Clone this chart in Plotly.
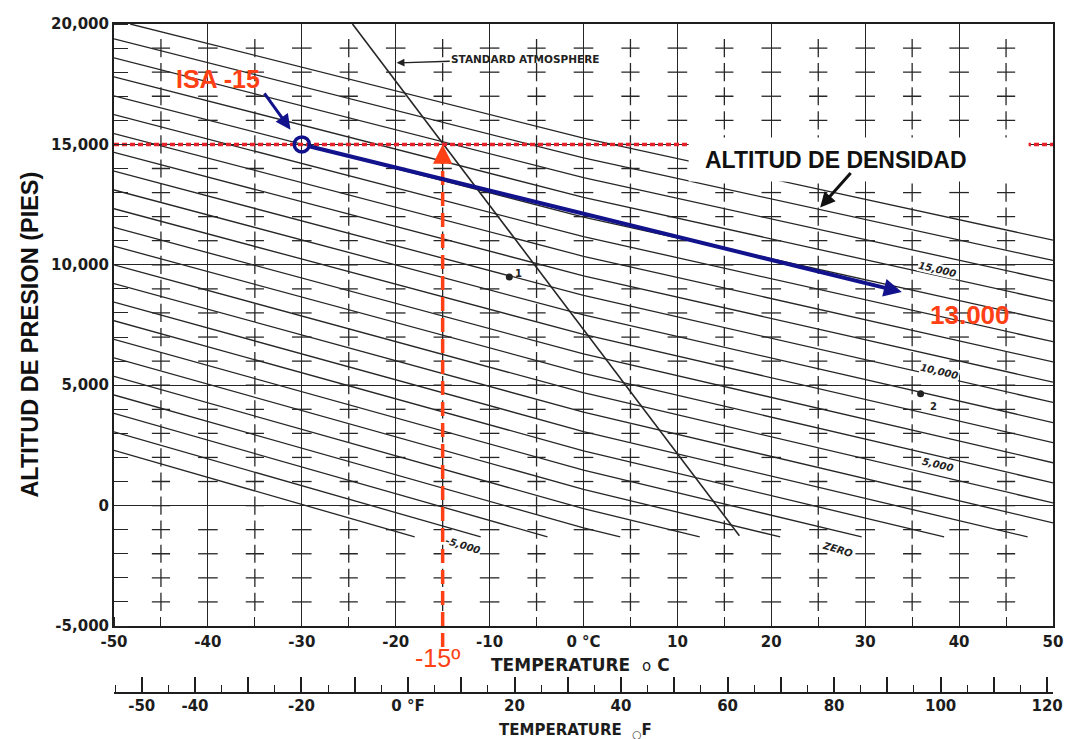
import plotly.graph_objects as go

# ---------------- data ----------------
temp_c_ticks = [-50, -40, -30, -20, -10, 0, 10, 20, 30, 40, 50]
temp_c_labels = ["-50", "-40", "-30", "-20", "-10", "0 °C", "10", "20", "30", "40", "50"]
pa_ticks = [-5000, 0, 5000, 10000, 15000, 20000]
pa_labels = ["-5,000", "0", "5,000", "10,000", "15,000", "20,000"]
temp_f_ticks = [-50, -40, -30, -20, -10, 0, 10, 20, 30, 40, 50, 60, 70, 80, 90, 100, 110, 120]
temp_f_labels = ["-50", "-40", "", "-20", "", "0 °F", "", "20", "", "40", "", "60", "", "80", "", "100", "", "120"]

# density-altitude lines: pressure altitude read at -50, 0 and +50 °C
da_levels = [-6000, -5000, -4000, -3000, -2000, -1000, 0, 1000, 2000, 3000, 4000, 5000,
             6000, 7000, 8000, 9000, 10000, 11000, 12000, 13000, 14000, 15000, 16000, 17000]
da_line_temps = [-50, 0, 50]
da_pa_at_m50 = [2295, 3061, 3828, 4595, 5364, 6134, 6905, 7677, 8450, 9223, 9998, 10774,
                11551, 12329, 13108, 13889, 14670, 15452, 16236, 17020, 17806, 18593, 19381, 20170]
da_pa_at_0 = [-3319, -2523, -1726, -928, -129, 671, 1472, 2274, 3077, 3881, 4687, 5493,
              6301, 7109, 7919, 8729, 9541, 10354, 11168, 11984, 12800, 13618, 14437, 15257]
da_pa_at_50 = [-8153, -7332, -6509, -5685, -4860, -4034, -3207, -2379, -1550, -719, 112, 945,
               1778, 2613, 3449, 4286, 5124, 5964, 6805, 7647, 8489, 9334, 10180, 11026]
da_pa_floor = -1300
pa_ceiling = 20000

std_temp = [-24.6, 16.6]
std_pa = [20000, -1250]

isa_temp, isa_pa = -30, 15000
result_temp, result_pa = 33.9, 8870
ref_temp = -15

marked_temp = [-7.9, 35.9]
marked_pa = [9490, 4640]
marked_text = ["1", "2"]
marked_text_temp = [-6.9, 37.3]
marked_text_pa = [9620, 4100]

da_label_text = ["15,000", "10,000", "5,000", "ZERO", "-5,000"]
da_label_temp = [37.7, 37.9, 37.7, 27.1, -12.8]
da_label_pa = [9800, 5560, 1710, -1810, -1650]
da_label_angle = [13, 13, 13, 17, 17]

# ---------------- styling ----------------
INK = "#262626"
NAVY = "#12128C"
RED = "#FF3F14"
DOTRED = "#E8202A"
TICKFONT = dict(family="DejaVu Sans", size=15, color="#1c1c1c", weight="bold")
X_RANGE = [-50, 50]
Y_RANGE = [-5000, 20000]
F_RANGE = [-55.2, 121.1]
Y_DOMAIN0 = 0.1473


def clip_poly(ts, ps, lo, hi):
    out_t, out_p = [], []
    for i in range(len(ts) - 1):
        t0, p0, t1, p1 = ts[i], ps[i], ts[i + 1], ps[i + 1]
        a, b = 0.0, 1.0
        dp = p1 - p0
        if dp == 0:
            if not (lo <= p0 <= hi):
                continue
        else:
            s1, s2 = (lo - p0) / dp, (hi - p0) / dp
            a, b = max(a, min(s1, s2)), min(b, max(s1, s2))
            if a >= b:
                continue
        for s in (a, b):
            t, p = t0 + s * (t1 - t0), p0 + s * dp
            if out_t and abs(out_t[-1] - t) < 1e-9 and abs(out_p[-1] - p) < 1e-6:
                continue
            out_t.append(t)
            out_p.append(p)
    return out_t, out_p


fig = go.Figure()

# plus marks of the chart grid
cross_x, cross_y, dash_x, dash_y = [], [], [], []
for pa in range(-4000, 20000, 1000):
    for t in range(-45, 50, 10):
        cross_x.append(t)
        cross_y.append(pa)
    if pa % 5000 != 0:
        for t in range(-40, 50, 10):
            dash_x.append(t)
            dash_y.append(pa)
fig.add_trace(go.Scatter(x=cross_x, y=cross_y, mode="markers",
                         marker=dict(symbol="cross-thin", size=13, line=dict(color=INK, width=1.3)),
                         hoverinfo="skip", showlegend=False))
fig.add_trace(go.Scatter(x=dash_x, y=dash_y, mode="markers",
                         marker=dict(symbol="line-ew", size=14, line=dict(color=INK, width=1.3)),
                         hoverinfo="skip", showlegend=False))

# density altitude lines
lx, ly = [], []
for i in range(len(da_levels)):
    ps = [da_pa_at_m50[i], da_pa_at_0[i], da_pa_at_50[i]]
    ct, cp = clip_poly(da_line_temps, ps, da_pa_floor, pa_ceiling)
    if ct:
        lx += ct + [None]
        ly += cp + [None]
fig.add_trace(go.Scatter(x=lx, y=ly, mode="lines", line=dict(color=INK, width=1.3),
                         hoverinfo="skip", showlegend=False))

# standard atmosphere
fig.add_trace(go.Scatter(x=std_temp, y=std_pa, mode="lines", line=dict(color=INK, width=1.6),
                         hoverinfo="skip", showlegend=False))

# marked points 1 and 2
fig.add_trace(go.Scatter(x=marked_temp, y=marked_pa, mode="markers",
                         marker=dict(color="#222", size=7), hoverinfo="skip", showlegend=False))

# red dotted pressure altitude line
fig.add_trace(go.Scatter(x=X_RANGE, y=[isa_pa, isa_pa], mode="lines",
                         line=dict(color=DOTRED, width=3.5, dash="5px,3px"),
                         hoverinfo="skip", showlegend=False))

# ISA -15 point
fig.add_trace(go.Scatter(x=[isa_temp], y=[isa_pa], mode="markers",
                         marker=dict(symbol="circle-open", size=15, color=NAVY,
                                     line=dict(color=NAVY, width=3.5)),
                         hoverinfo="skip", showlegend=False))

# trace to bring the Fahrenheit axis to life
fig.add_trace(go.Scatter(x=[F_RANGE[0], F_RANGE[1]], y=[Y_RANGE[0] - 5000] * 2, xaxis="x2", yaxis="y",
                         mode="lines", line=dict(width=0), hoverinfo="skip", showlegend=False))


def pa_to_paper(pa):
    return Y_DOMAIN0 + (pa - Y_RANGE[0]) / (Y_RANGE[1] - Y_RANGE[0]) * (1 - Y_DOMAIN0)


shapes = [
    # white box over the original text
    dict(type="rect", xref="x", yref="y", x0=11.2, x1=47.4, y0=13460, y1=15282,
         fillcolor="white", line=dict(width=0), layer="above"),
    # red dashed -15 line
    dict(type="line", xref="x", yref="paper", x0=ref_temp, x1=ref_temp,
         y0=0.1176, y1=pa_to_paper(isa_pa) - 0.012,
         line=dict(color=RED, width=3.5, dash="14px,7px"), layer="above"),
]

annotations = []
# y axis title
annotations.append(dict(text="ALTITUD DE PRESION (PIES)", xref="paper", yref="paper", x=-0.0895, y=0.56,
                        xanchor="center", yanchor="middle", textangle=-90, showarrow=False,
                        font=dict(family="Liberation Sans", size=23.5, color="#111", weight="bold")))
# x axis titles
annotations.append(dict(text="TEMPERATURE  <span style='font-weight:normal;font-size:15px'>o</span> C",
                        xref="paper", yref="paper",
                        x=0.497, y=0.0922, xanchor="center", yanchor="middle", showarrow=False,
                        font=dict(family="DejaVu Sans", size=17, color="#1c1c1c", weight="bold")))
annotations.append(dict(text="TEMPERATURE  <sub>○</sub>F", xref="paper", yref="paper",
                        x=0.492, y=-0.001, xanchor="center", yanchor="middle", showarrow=False,
                        font=dict(family="DejaVu Sans", size=15, color="#1c1c1c", weight="bold")))
# -15 label
annotations.append(dict(text="-15º", xref="x", yref="paper", x=ref_temp - 0.6, y=0.102,
                        xanchor="center", yanchor="middle", showarrow=False,
                        font=dict(family="Liberation Sans", size=25, color=RED)))
# ISA -15 label and arrow
annotations.append(dict(text="ISA -15", x=-38.9, y=17700, showarrow=False,
                        font=dict(family="Liberation Sans", size=25, color=RED, weight="bold")))
annotations.append(dict(text="", x=-31.2, y=15613, ax=-34.1, ay=17185, axref="x", ayref="y",
                        showarrow=True, arrowhead=2, arrowsize=1, arrowwidth=3, arrowcolor=NAVY))
# blue result arrow
annotations.append(dict(text="", x=result_temp, y=result_pa, ax=isa_temp, ay=isa_pa, axref="x", ayref="y",
                        showarrow=True, arrowhead=2, arrowsize=0.9, arrowwidth=4, arrowcolor=NAVY,
                        startstandoff=7))
annotations.append(dict(text="13.000", x=41.2, y=7914, showarrow=False,
                        font=dict(family="Liberation Sans", size=26, color=RED, weight="bold")))
# density altitude label
annotations.append(dict(text="ALTITUD DE DENSIDAD", x=26.9, y=14371, showarrow=False,
                        font=dict(family="Liberation Sans", size=23, color="#111", weight="bold")))
annotations.append(dict(text="", x=25.2, y=12384, ax=28.6, ay=13874, axref="x", ayref="y",
                        showarrow=True, arrowhead=2, arrowsize=1, arrowwidth=3, arrowcolor="#111"))
# red arrow head at top of the -15 line
annotations.append(dict(text="", x=ref_temp, y=isa_pa, ax=ref_temp, ay=isa_pa - 700, axref="x", ayref="y",
                        showarrow=True, arrowhead=2, arrowsize=1.1, arrowwidth=3.5, arrowcolor=RED))
# standard atmosphere label
annotations.append(dict(text="STANDARD ATMOSPHERE", x=-19.9, y=18386, ax=-6.2, ay=18551, axref="x", ayref="y",
                        showarrow=True, arrowhead=2, arrowsize=1.2, arrowwidth=1.3, arrowcolor="#222",
                        font=dict(family="DejaVu Sans", size=10.5, color="#222", weight="bold")))
# density altitude line labels
for txt, t, p, ang in zip(da_label_text, da_label_temp, da_label_pa, da_label_angle):
    annotations.append(dict(text=txt, x=t, y=p, showarrow=False, textangle=ang,
                            bgcolor="white" if txt not in ("ZERO", "-5,000") else None,
                            borderpad=0,
                            font=dict(family="DejaVu Sans", size=10, color="#222", weight="bold",
                                      style="italic")))
# point labels
for txt, t, p in zip(marked_text, marked_text_temp, marked_text_pa):
    annotations.append(dict(text=txt, x=t, y=p, showarrow=False,
                            font=dict(family="DejaVu Sans", size=10, color="#222", weight="bold")))

fig.update_layout(
    width=1067, height=739,
    margin=dict(l=114, r=14, t=24, b=0),
    paper_bgcolor="white", plot_bgcolor="white",
    showlegend=False,
    shapes=shapes,
    annotations=annotations,
    xaxis=dict(range=X_RANGE, tickvals=temp_c_ticks, ticktext=temp_c_labels, tickfont=TICKFONT,
               showgrid=True, gridcolor=INK, gridwidth=1.4, zeroline=False,
               showline=True, linecolor="#1e1e1e", linewidth=2, mirror=True,
               ticks="", ticklabelstandoff=1,
               minor=dict(dtick=5, ticks="inside", ticklen=9, tickwidth=1.4, tickcolor=INK, showgrid=False),
               fixedrange=True),
    yaxis=dict(range=Y_RANGE, domain=[Y_DOMAIN0, 1], tickvals=pa_ticks, ticktext=pa_labels, tickfont=TICKFONT,
               showgrid=True, gridcolor=INK, gridwidth=1.4, zeroline=False,
               showline=True, linecolor="#1e1e1e", linewidth=2, mirror=True,
               ticks="", ticklabelstandoff=0,
               minor=dict(dtick=1000, ticks="inside", ticklen=14, tickwidth=1.4, tickcolor=INK, showgrid=False),
               fixedrange=True),
    xaxis2=dict(range=F_RANGE, overlaying="x", anchor="free", position=0.053, side="bottom",
                tickvals=temp_f_ticks, ticktext=temp_f_labels, tickfont=TICKFONT,
                showgrid=False, zeroline=False, showline=True, linecolor="#1e1e1e", linewidth=1.8,
                ticks="inside", ticklen=15, tickwidth=1.6, tickcolor="#1e1e1e", ticklabelstandoff=0,
                minor=dict(dtick=5, ticks="inside", ticklen=7, tickwidth=1.4, tickcolor="#1e1e1e"),
                fixedrange=True),
)

fig.write_html("out.html", config={"displayModeBar": False},
               post_script="document.body.style.margin='0px';")
